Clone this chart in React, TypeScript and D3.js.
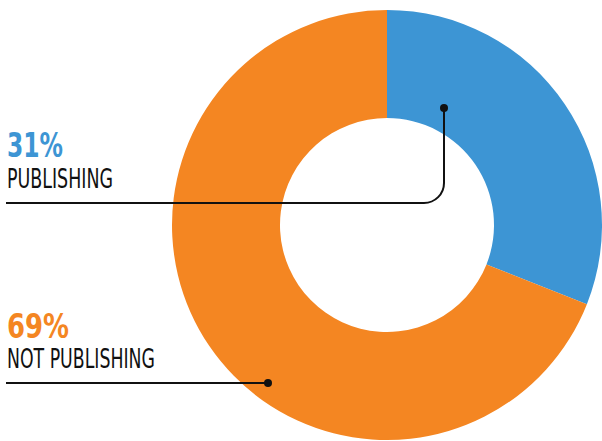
import React, { useLayoutEffect, useRef, useState } from "react";
import * as d3 from "d3";

const categories = ["PUBLISHING", "NOT PUBLISHING"];
const values = [31, 69];
const colors = ["#3d95d4", "#f48622"];

export default function App() {
  const W = 602, H = 441;
  const cx = 387, cy = 225, R = 215, r = 107;
  const pie = d3.pie<number>().sort(null).value((d) => d).startAngle(0).endAngle(2 * Math.PI);
  const arcs = pie(values);
  const arcGen = d3.arc<d3.PieArcDatum<number>>().innerRadius(r).outerRadius(R);
  const font = "'Liberation Sans Narrow', 'DejaVu Sans Condensed', Roboto, Arial, sans-serif";

  const bx = 444;
  const by = 108;
  const lineY1 = 203;
  const cr = 20;
  const pubPath = `M6,${lineY1} L${bx - cr},${lineY1} A${cr},${cr} 0 0 0 ${bx},${lineY1 - cr} L${bx},${by}`;

  const items = [
    { key: "p0", y: 157, w: 56, size: 34, bold: true, fill: colors[0], txt: `${values[0]}%` },
    { key: "c0", y: 188, w: 106, size: 27, bold: false, fill: "#111", txt: categories[0] },
    { key: "p1", y: 338, w: 62, size: 34, bold: true, fill: colors[1], txt: `${values[1]}%` },
    { key: "c1", y: 368, w: 148, size: 27, bold: false, fill: "#111", txt: categories[1] },
  ];

  const refs = useRef<(SVGTextElement | null)[]>([]);
  const [scales, setScales] = useState<number[]>(items.map(() => 1));

  useLayoutEffect(() => {
    const s = items.map((it, i) => {
      const el = refs.current[i];
      if (!el) return 1;
      const bw = el.getBBox().width;
      return bw > 0 ? it.w / bw : 1;
    });
    setScales(s);
  }, []);

  return (
    <svg width={W} height={H} style={{ position: "absolute", left: 0, top: 0 }}>
      <g transform={`translate(${cx},${cy})`}>
        {arcs.map((a, i) => (
          <path key={categories[i]} d={arcGen(a) || ""} fill={colors[i]} />
        ))}
      </g>
      <path d={pubPath} fill="none" stroke="#111" strokeWidth={2} />
      <circle cx={bx} cy={by} r={4} fill="#111" />
      <line x1={6} x2={268} y1={383} y2={383} stroke="#111" strokeWidth={2} />
      <circle cx={268} cy={383} r={4} fill="#111" />

      {items.map((it, i) => (
        <text
          key={it.key}
          ref={(el) => { refs.current[i] = el; }}
          transform={`translate(7,${it.y}) scale(${scales[i]},1)`}
          fontFamily={font}
          fontWeight={it.bold ? "bold" : "normal"}
          fontSize={it.size}
          fill={it.fill}
        >
          {it.txt}
        </text>
      ))}
    </svg>
  );
}
